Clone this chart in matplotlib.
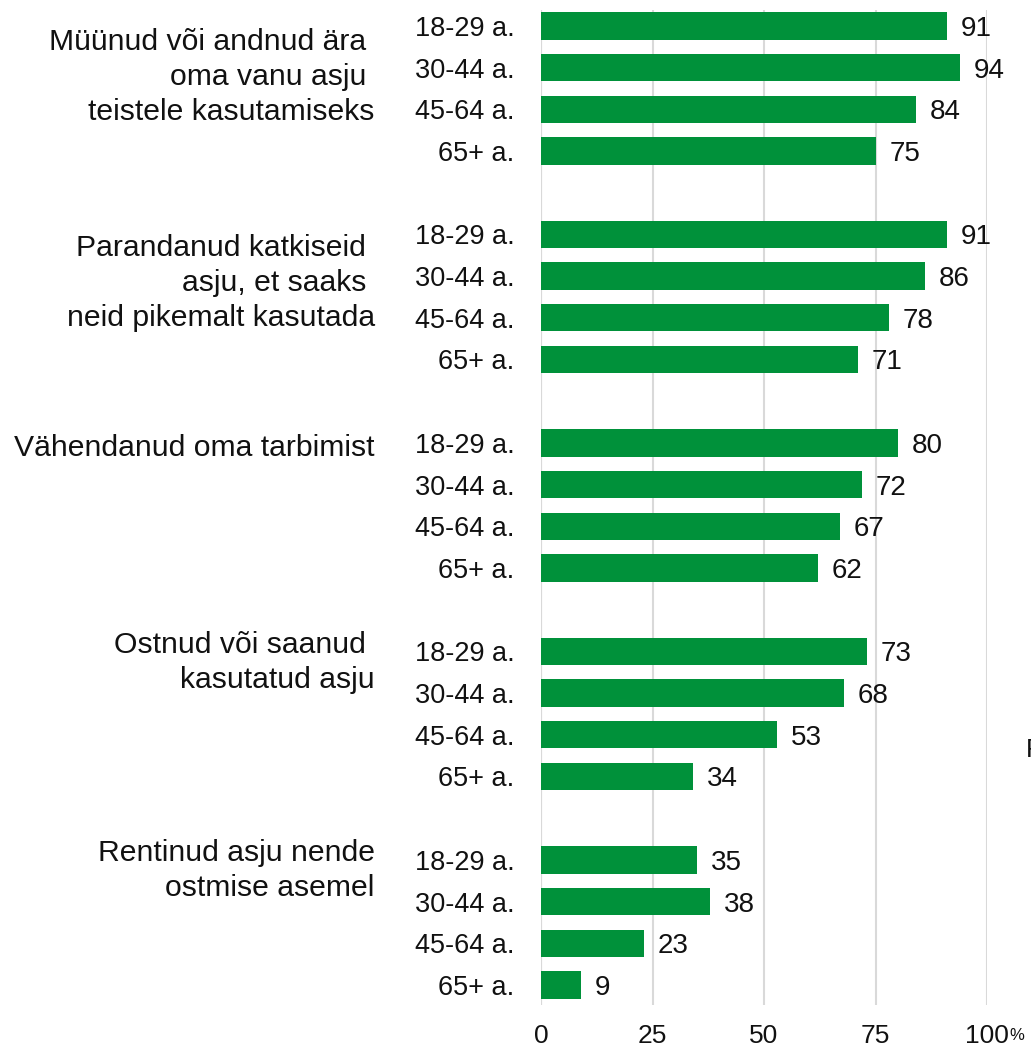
import numpy as np
import matplotlib.pyplot as plt

plt.rcParams['font.family'] = ['Liberation Sans', 'DejaVu Sans']

kategooriad = [
    'Müünud või andnud ära \noma vanu asju \nteistele kasutamiseks',
    'Parandanud katkiseid \nasju, et saaks \nneid pikemalt kasutada',
    'Vähendanud oma tarbimist',
    'Ostnud või saanud \nkasutatud asju',
    'Rentinud asju nende\nostmise asemel',
]
vanused = ['18-29 a.', '30-44 a.', '45-64 a.', '65+ a.']
vaartused = [
    [91, 94, 84, 75],
    [91, 86, 78, 71],
    [80, 72, 67, 62],
    [73, 68, 53, 34],
    [35, 38, 23, 9],
]
x_ticks = [0, 25, 50, 75, 100]

roheline = '#00913A'
hall = '#D9D9D9'
tekst = '#111111'

fig = plt.figure(figsize=(10.31, 10.5), dpi=100)
ax = fig.add_axes([541 / 1031, 45 / 1050, 446 / 1031, 1 - 55 / 1050])

# y-positsioonid: 4 riba + 1 tühi koht grupis
pos = []
labels = []
vals = []
for g, grupp in enumerate(vaartused):
    for i, v in enumerate(grupp):
        pos.append(g * 5 + i)
        labels.append(vanused[i])
        vals.append(v)
pos = np.array(pos)

ax.barh(pos, vals, height=0.655, color=roheline, zorder=3)
for p, v in zip(pos, vals):
    ax.text(v + 3.1, p, str(v), va='center_baseline', ha='left', fontsize=20, color=tekst)

ax.set_xlim(0, 100)
ax.set_ylim(23.48, -0.38)
ax.set_yticks(pos)
ax.set_yticklabels(labels, fontsize=19.5, color=tekst)
ax.set_xticks(x_ticks)
ax.set_xticklabels([str(t) for t in x_ticks], fontsize=19, color=tekst)
ax.tick_params(axis='both', length=0)
ax.tick_params(axis='y', pad=19)
ax.tick_params(axis='x', pad=14)
ax.grid(axis='x', color=hall, linewidth=1.5, zorder=0)
for s in ax.spines.values():
    s.set_visible(False)
ax.axvline(0, color=hall, linewidth=1.5, zorder=1)

# kategooriate sildid vasakul
nihked = [1.23, 1.16, 0.12, 0.26, 0.26]
for g, (k, n) in enumerate(zip(kategooriad, nihked)):
    y = g * 5 + n
    ax.text(-37.3, y, k, ha='right', va='center', multialignment='right',
            fontsize=21.7, color=tekst, linespacing=1.32,
            transform=ax.transData)

fig.text(1009 / 1031, 1 - 1036 / 1050, '%', fontsize=12, va='center', ha='left', color=tekst)
fig.text(1026 / 1031, 1 - 750 / 1050, 'F', fontsize=19, va='center', ha='left', color=tekst)

fig.savefig('out.png', dpi=100, facecolor='white')
